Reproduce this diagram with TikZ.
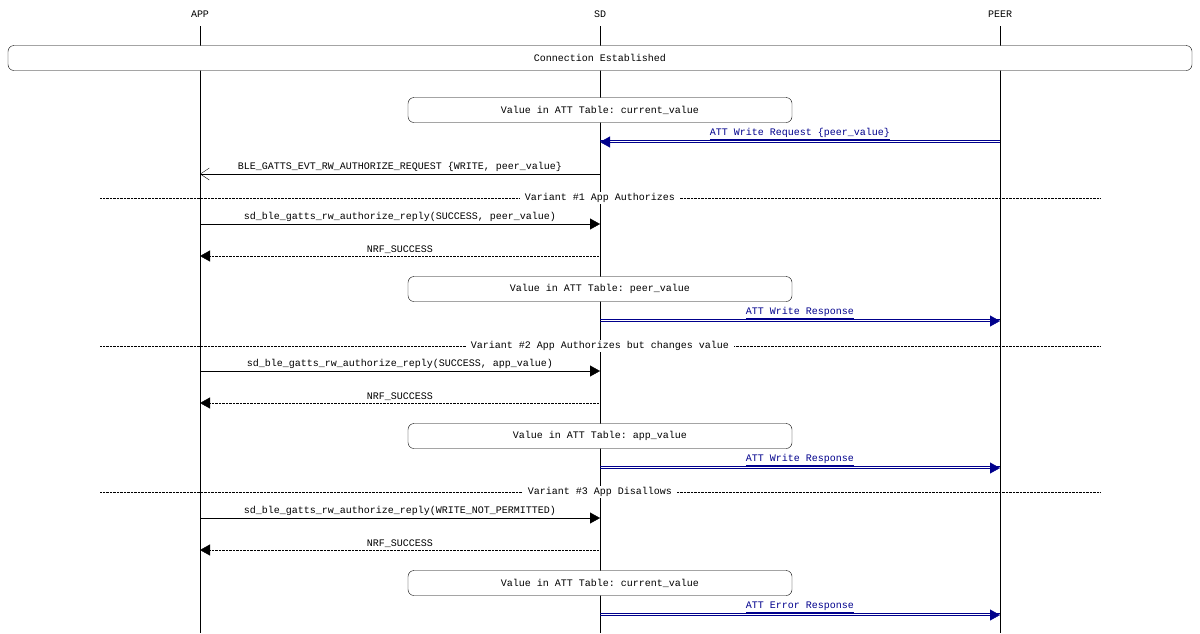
\documentclass[tikz,border=0pt]{standalone}
\usepackage{fontspec}
\setmonofont{Liberation Mono}
\usetikzlibrary{arrows.meta}
\definecolor{msgblue}{RGB}{0,0,140}
\tikzset{
  lbl/.style={font=\ttfamily\fontsize{10}{12}\selectfont, inner sep=1pt},
  state/.style={draw, rounded corners=6pt, minimum height=25pt, lbl},
  call/.style={-{Triangle[length=10pt,width=11pt]}},
  reply/.style={densely dotted, -{Triangle[length=10pt,width=11pt]}},
  event/.style={-{Straight Barb[length=9pt,width=12pt]}},
  air/.style={msgblue, -{Triangle[length=10pt,width=11pt]}},
  airlbl/.style={lbl, text=msgblue},
  variant/.style={densely dotted},
}
% double blue message over the air
\newcommand{\airmsg}[4]{%
  \draw[msgblue] ([yshift=1.5pt]#1 |- #3) -- ([yshift=1.5pt]#2 |- #3);
  \draw[air] (#1 |- #3) -- (#2 |- #3) node[midway, above=1pt, airlbl] {\underline{#4}};
}
\begin{document}
\begin{tikzpicture}[x=1pt, y=-1pt]
\useasboundingbox (0,0) rectangle (1200,633);

% lifelines
\node[lbl] (app)  at (200,14) {APP};
\node[lbl] (sd)   at (600,14) {SD};
\node[lbl] (peer) at (1000,14) {PEER};
\foreach \l in {app,sd,peer}
  \draw (\l |- 0,26) -- (\l |- 0,633);

\node[state, minimum width=1184pt, fill=white] (conn) at (600,58) {Connection Established};

\node[state, minimum width=384pt, fill=white] (s1) at (600,110) {Value in ATT Table: current\_value};

\coordinate (m1) at (0,142);
\airmsg{peer}{sd}{m1}{ATT Write Request \{peer\_value\}}
\coordinate (m2) at (0,174);
\draw[event] (sd |- m2) -- (app |- m2) node[midway, above=1pt, lbl] {BLE\_GATTS\_EVT\_RW\_AUTHORIZE\_REQUEST \{WRITE, peer\_value\}};

% variant 1
\coordinate (v1a) at (100,198);
\coordinate (v1b) at (1100,198);
\draw[variant] (v1a) -- (v1b) node[midway, fill=white, lbl, inner xsep=5pt] {Variant \#1 App Authorizes};
\coordinate (m3) at (0,224);
\draw[call] (app |- m3) -- (sd |- m3) node[midway, above=1pt, lbl] {sd\_ble\_gatts\_rw\_authorize\_reply(SUCCESS, peer\_value)};
\coordinate (m4) at (0,256);
\draw[reply] (sd |- m4) -- (app |- m4) node[midway, above=1pt, lbl] {NRF\_SUCCESS};
\node[state, minimum width=384pt, fill=white] (s2) at (600,289) {Value in ATT Table: peer\_value};
\coordinate (m5) at (0,321);
\airmsg{sd}{peer}{m5}{ATT Write Response}

% variant 2
\coordinate (v2a) at (100,346);
\coordinate (v2b) at (1100,346);
\draw[variant] (v2a) -- (v2b) node[midway, fill=white, lbl, inner xsep=5pt] {Variant \#2 App Authorizes but changes value};
\coordinate (m6) at (0,371);
\draw[call] (app |- m6) -- (sd |- m6) node[midway, above=1pt, lbl] {sd\_ble\_gatts\_rw\_authorize\_reply(SUCCESS, app\_value)};
\coordinate (m7) at (0,403);
\draw[reply] (sd |- m7) -- (app |- m7) node[midway, above=1pt, lbl] {NRF\_SUCCESS};
\node[state, minimum width=384pt, fill=white] (s3) at (600,436) {Value in ATT Table: app\_value};
\coordinate (m8) at (0,468);
\airmsg{sd}{peer}{m8}{ATT Write Response}

% variant 3
\coordinate (v3a) at (100,492);
\coordinate (v3b) at (1100,492);
\draw[variant] (v3a) -- (v3b) node[midway, fill=white, lbl, inner xsep=5pt] {Variant \#3 App Disallows};
\coordinate (m9) at (0,518);
\draw[call] (app |- m9) -- (sd |- m9) node[midway, above=1pt, lbl] {sd\_ble\_gatts\_rw\_authorize\_reply(WRITE\_NOT\_PERMITTED)};
\coordinate (m10) at (0,550);
\draw[reply] (sd |- m10) -- (app |- m10) node[midway, above=1pt, lbl] {NRF\_SUCCESS};
\node[state, minimum width=384pt, fill=white] (s4) at (600,583) {Value in ATT Table: current\_value};
\coordinate (m11) at (0,615);
\airmsg{sd}{peer}{m11}{ATT Error Response}
\end{tikzpicture}
\end{document}
